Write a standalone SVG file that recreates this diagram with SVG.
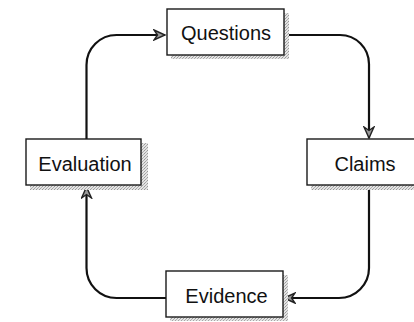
<svg xmlns="http://www.w3.org/2000/svg" width="414" height="322" viewBox="0 0 414 322">
  <defs>
    <pattern id="stip" width="3" height="3" patternUnits="userSpaceOnUse">
      <rect width="3" height="3" fill="#e4e4e4"/>
      <rect width="1" height="1" fill="#9a9a9a"/>
      <rect x="2" y="1" width="1" height="1" fill="#b0b0b0"/>
      <rect x="1" y="2" width="1" height="1" fill="#a6a6a6"/>
    </pattern>
    <marker id="arr" markerUnits="userSpaceOnUse" markerWidth="14" markerHeight="12" refX="12" refY="6" orient="auto" viewBox="0 0 14 12">
      <path d="M1,1 L12,6 L1,11 L4.5,6 Z" fill="#9a9a9a" stroke="#222" stroke-width="1.4" stroke-linejoin="miter"/>
    </marker>
  </defs>
  <style>
    .shadow { fill: url(#stip); }
    .box { fill: #fff; stroke: #1a1a1a; stroke-width: 1.4; }
    .label { font-family: "Liberation Sans", Arial, sans-serif; font-size: 20px; fill: #111; text-anchor: middle; }
    .conn { fill: none; stroke: #111; stroke-width: 2.2; marker-end: url(#arr); }
  </style>
  <rect width="414" height="322" fill="#fff"/>

  <g id="connectors">
    <path class="conn" d="M86.5,139 V65 A30,30 0 0 1 116.5,35 H165"/>
    <path class="conn" d="M284,35 H340 A29,29 0 0 1 369,64 V138"/>
    <path class="conn" d="M369,185 V268 A30,30 0 0 1 339,298 H284"/>
    <path class="conn" d="M166,298 H116.5 A30,30 0 0 1 86.5,268 V187"/>
  </g>

  <g id="questions">
    <rect class="shadow" x="171" y="13" width="118" height="46"/>
    <rect class="box" x="167" y="9" width="117" height="46"/>
    <text class="label" x="226" y="40">Questions</text>
  </g>

  <g id="claims">
    <rect class="shadow" x="311" y="143" width="110" height="47"/>
    <rect class="box" x="307" y="139" width="114" height="46"/>
    <text class="label" x="365" y="171">Claims</text>
  </g>

  <g id="evidence">
    <rect class="shadow" x="170" y="275" width="118" height="46"/>
    <rect class="box" x="166" y="271" width="117" height="46"/>
    <text class="label" x="226.5" y="303">Evidence</text>
  </g>

  <g id="evaluation">
    <rect class="shadow" x="30" y="143" width="118" height="47"/>
    <rect class="box" x="26" y="139" width="115" height="46"/>
    <text class="label" x="85" y="171">Evaluation</text>
  </g>
</svg>
